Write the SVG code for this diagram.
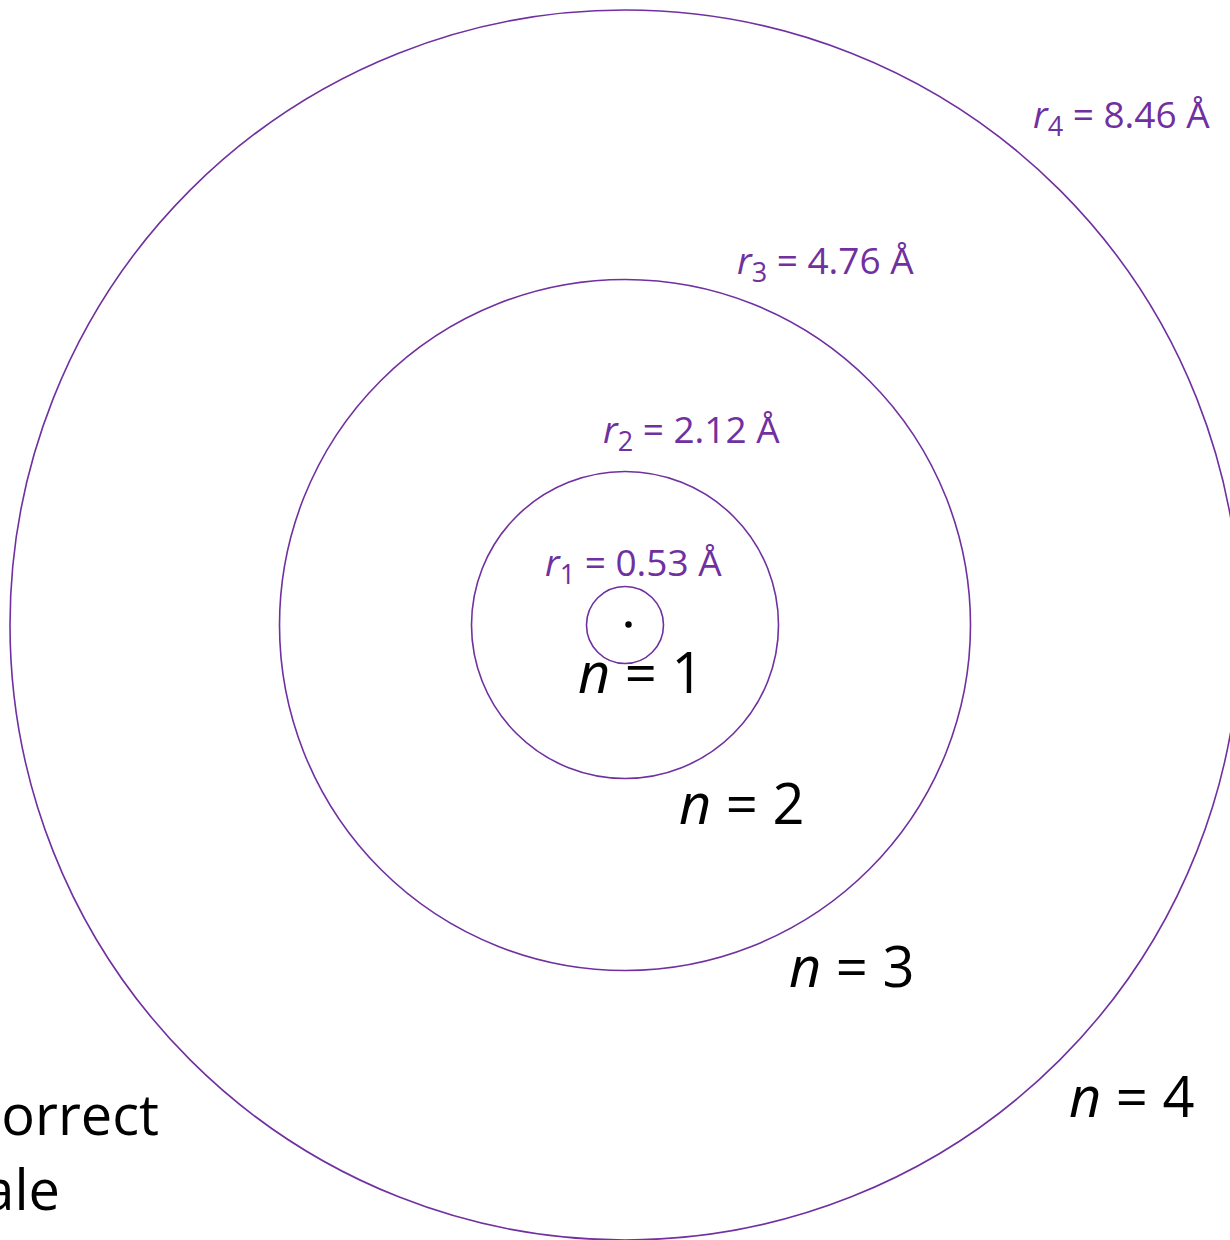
<svg xmlns="http://www.w3.org/2000/svg" width="1230" height="1240" viewBox="0 0 1230 1240">
<style>
.orbit{fill:none;stroke:#7030A0;stroke-width:1.6}
.r{font-family:"Open Sans","Liberation Sans",sans-serif;font-size:37px;fill:#7030A0}
.n{font-family:"Open Sans","Liberation Sans",sans-serif;font-size:56px;fill:#000}
.sub{font-size:27px}
.i{font-style:italic}
</style>
<rect width="1230" height="1240" fill="#fff"/>
<g id="orbit4"><circle class="orbit" cx="625" cy="625" r="615"/></g>
<g id="orbit3"><circle class="orbit" cx="625" cy="625" r="345.5"/></g>
<g id="orbit2"><circle class="orbit" cx="625" cy="625" r="153.5"/></g>
<g id="orbit1"><circle class="orbit" cx="625" cy="625" r="38.5"/></g>
<g id="nucleus"><circle cx="628.5" cy="624.5" r="3.2" fill="#000"/></g>
<g id="labels-r">
<text class="r" x="545" y="576"><tspan class="i">r</tspan><tspan class="sub" dy="8">1</tspan><tspan dy="-8"> = 0.53 Å</tspan></text>
<text class="r" x="603" y="443"><tspan class="i">r</tspan><tspan class="sub" dy="8">2</tspan><tspan dy="-8"> = 2.12 Å</tspan></text>
<text class="r" x="737" y="274"><tspan class="i">r</tspan><tspan class="sub" dy="8">3</tspan><tspan dy="-8"> = 4.76 Å</tspan></text>
<text class="r" x="1033" y="128"><tspan class="i">r</tspan><tspan class="sub" dy="8">4</tspan><tspan dy="-8"> = 8.46 Å</tspan></text>
</g>
<g id="labels-n">
<text class="n" x="578" y="693"><tspan class="i">n</tspan> = 1</text>
<text class="n" x="679" y="824"><tspan class="i">n</tspan> = 2</text>
<text class="n" x="789" y="987"><tspan class="i">n</tspan> = 3</text>
<text class="n" x="1069" y="1117"><tspan class="i">n</tspan> = 4</text>
</g>
<g id="note">
<text class="n" x="159" y="1135" text-anchor="end">correct</text>
<text class="n" x="60" y="1210" text-anchor="end">ale</text>
</g>
</svg>
